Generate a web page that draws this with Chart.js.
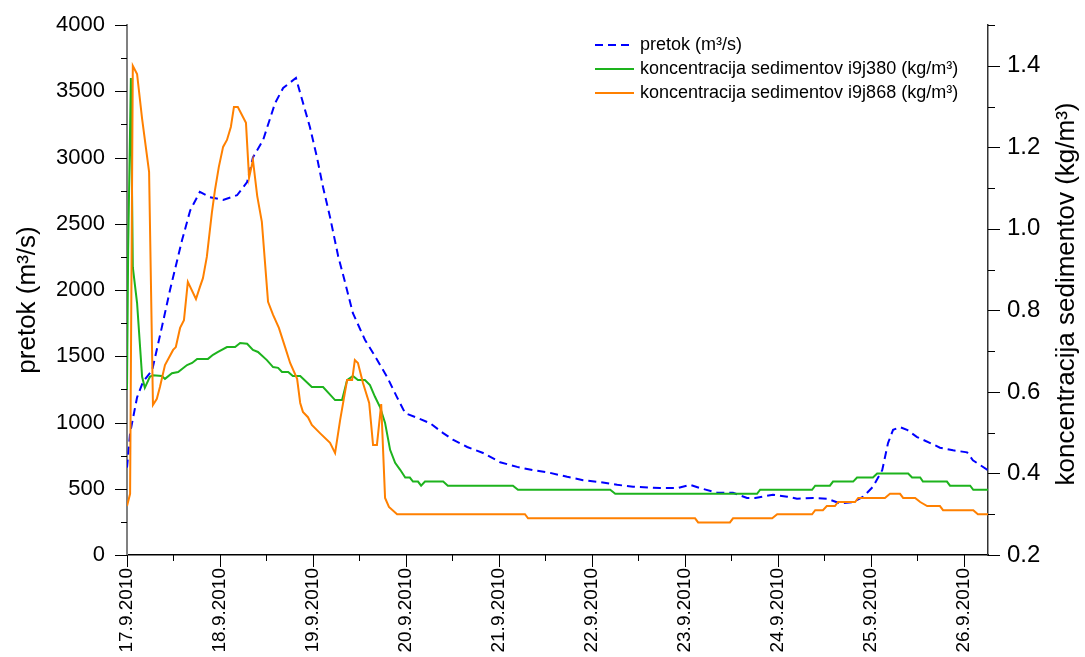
<!DOCTYPE html>
<html>
<head>
<meta charset="utf-8">
<script src="https://cdn.jsdelivr.net/npm/chart.js"></script>
<style>
  html, body { margin: 0; padding: 0; background: #fff; }
  canvas { display: block; }
</style>
</head>
<body>
<canvas id="c" width="1085" height="657"></canvas>
<script>
// ---- data (x in hours from 17.9.2010 00:00) ----
const dateLabels = ['17.9.2010','18.9.2010','19.9.2010','20.9.2010','21.9.2010','22.9.2010','23.9.2010','24.9.2010','25.9.2010','26.9.2010'];

const pretokHours = [0,0.8,2.6,4.1,6.5,9.0,11.1,14.2,16.3,18.8,21.4,24.8,28.4,31.0,32.5,35.1,38.2,40.3,43.6,47.2,49.0,50.6,52.4,54.5,56.3,58.3,61.4,63.5,67.1,69.7,71.8,74.9,78.2,81.6,84.1,87.8,91.9,96.3,100.7,104.8,109.2,113.6,117.7,122.1,126.5,130.6,137.6,142.0,145.3,147.9,152.3,156.4,160.0,162.1,166.7,170.4,172.9,177.1,180.7,184.0,187.4,190.0,192.5,194.9,196.4,197.7,199.5,201.3,203.9,207.3,209.8,213.2,216.8,218.3,222.2];
const pretokValues = [660,920,1190,1305,1395,1720,2000,2375,2600,2740,2700,2680,2715,2815,3000,3130,3410,3525,3600,3230,3005,2775,2550,2255,2055,1825,1625,1525,1345,1190,1070,1035,995,920,870,815,770,700,665,640,620,590,565,550,530,515,505,505,530,505,470,470,430,430,455,440,425,430,425,390,400,440,515,640,845,945,965,945,890,845,810,790,775,715,640];

const i9j380Hours = [0,0.3,1.0,1.5,2.6,3.9,4.6,5.9,6.7,9.0,9.8,11.6,13.2,15.5,16.8,18.1,20.9,22.2,23.5,25.8,27.9,29.2,31.0,32.5,33.8,36.1,37.7,39.0,40.0,41.6,42.8,44.7,47.7,50.6,53.7,55.5,56.8,58.3,59.6,61.4,62.7,64.0,65.3,66.6,67.9,69.2,70.5,71.8,73.0,73.8,75.1,75.9,76.9,81.6,82.8,99.6,100.9,124.7,126.0,162.6,163.4,176.8,177.6,181.4,182.2,187.4,188.4,192.5,193.6,201.6,202.6,204.7,205.4,211.6,212.4,217.6,218.4,222.2];
const i9j380Values = [0.605,0.95,1.37,0.906,0.818,0.637,0.610,0.637,0.641,0.639,0.632,0.646,0.649,0.666,0.671,0.681,0.681,0.691,0.698,0.710,0.710,0.720,0.718,0.703,0.698,0.678,0.661,0.659,0.649,0.649,0.639,0.639,0.612,0.612,0.580,0.580,0.629,0.639,0.629,0.629,0.617,0.588,0.563,0.524,0.458,0.426,0.409,0.39,0.39,0.38,0.38,0.37,0.38,0.38,0.37,0.37,0.36,0.36,0.35,0.35,0.36,0.36,0.37,0.37,0.38,0.38,0.39,0.39,0.40,0.40,0.39,0.39,0.38,0.38,0.37,0.37,0.36,0.36];

const i9j868Hours = [0,0.8,1.5,2.6,3.9,5.7,6.7,7.7,8.5,9.8,11.9,12.6,13.7,14.7,15.7,17.8,18.8,19.6,20.6,21.9,22.7,23.7,24.8,25.8,26.8,27.6,28.6,30.7,31.5,32.5,33.6,34.8,36.4,37.7,39.2,40.8,42.1,43.9,44.7,45.4,46.7,47.7,49.8,52.4,53.7,55.0,56.8,58.1,58.8,59.6,60.9,62.5,63.5,64.5,65.6,66.6,67.6,69.7,102.7,103.5,146.6,147.4,155.6,156.4,166.5,167.8,176.8,177.6,179.6,180.6,182.7,183.5,187.9,188.7,195.6,196.9,199.5,200.3,203.4,204.7,206.5,209.8,210.6,218.4,219.6,222.2];
const i9j868Values = [0.32,0.35,1.40,1.38,1.27,1.14,0.568,0.583,0.612,0.666,0.703,0.710,0.757,0.776,0.870,0.828,0.857,0.879,0.931,1.039,1.095,1.152,1.201,1.218,1.250,1.299,1.299,1.260,1.125,1.169,1.081,1.017,0.821,0.789,0.757,0.710,0.671,0.632,0.573,0.551,0.538,0.519,0.499,0.475,0.450,0.531,0.629,0.629,0.678,0.671,0.622,0.573,0.470,0.470,0.570,0.340,0.318,0.30,0.30,0.29,0.29,0.28,0.28,0.29,0.29,0.30,0.30,0.31,0.31,0.32,0.32,0.33,0.33,0.34,0.34,0.35,0.35,0.34,0.34,0.33,0.32,0.32,0.31,0.31,0.30,0.30];

const toPoints = (xs, ys) => xs.map((h, i) => ({ x: h, y: ys[i] }));

const FONT = "'Liberation Sans', Arial, sans-serif";

const decor = {
  id: 'decor',
  afterDraw(chart) {
    const ctx = chart.ctx;
    const ca = chart.chartArea;
    const sx = chart.scales.x, sy = chart.scales.y, sy1 = chart.scales.y1;
    ctx.save();
    ctx.strokeStyle = '#000';
    ctx.lineWidth = 1;
    const seg = (x1, y1, x2, y2) => { ctx.beginPath(); ctx.moveTo(x1, y1); ctx.lineTo(x2, y2); ctx.stroke(); };
    // ticks
    sy.ticks.forEach(t => {
      const py = Math.round(sy.getPixelForValue(t.value)) + 0.5;
      const len = (Math.round(t.value) % 500 === 0) ? 12 : 6;
      seg(ca.left - len, py, ca.left, py);
    });
    sy1.ticks.forEach(t => {
      const py = Math.round(sy1.getPixelForValue(t.value)) + 0.5;
      const len = (Math.round(t.value * 10) % 2 === 0) ? 12 : 7;
      seg(ca.right, py, ca.right + len, py);
    });
    sx.ticks.forEach(t => {
      const px = Math.round(sx.getPixelForValue(t.value)) + 0.5;
      const len = (Math.round(t.value) % 24 === 0) ? 12 : 6;
      seg(px, ca.bottom, px, ca.bottom + len);
    });
    // axis titles
    ctx.fillStyle = '#000';
    ctx.textAlign = 'center';
    ctx.textBaseline = 'middle';
    ctx.font = '26px ' + FONT;
    ctx.save();
    ctx.translate(28, 300);
    ctx.rotate(-Math.PI / 2);
    ctx.fillText('pretok (m³/s)', 0, 0);
    ctx.restore();
    ctx.save();
    ctx.translate(1067, 294);
    ctx.rotate(-Math.PI / 2);
    ctx.fillText('koncentracija sedimentov (kg/m³)', 0, 0);
    ctx.restore();
    // legend
    ctx.font = '18px ' + FONT;
    ctx.textAlign = 'left';
    const rows = [45, 69, 93];
    chart.data.datasets.forEach((ds, i) => {
      const ly = rows[i];
      ctx.save();
      ctx.strokeStyle = ds.borderColor;
      ctx.lineWidth = 2;
      ctx.setLineDash(ds.borderDash || []);
      seg(595, ly, 634, ly);
      ctx.restore();
      ctx.fillText(ds.label, 640, ly);
    });
    ctx.restore();
  }
};

new Chart(document.getElementById('c'), {
  type: 'line',
  data: {
    datasets: [
      { label: 'pretok (m³/s)', data: toPoints(pretokHours, pretokValues), yAxisID: 'y',
        borderColor: '#0000ff', borderWidth: 2, borderDash: [8, 5], pointRadius: 0, order: 3 },
      { label: 'koncentracija sedimentov i9j380 (kg/m³)', data: toPoints(i9j380Hours, i9j380Values), yAxisID: 'y1',
        borderColor: '#1db31d', borderWidth: 2, pointRadius: 0, order: 2 },
      { label: 'koncentracija sedimentov i9j868 (kg/m³)', data: toPoints(i9j868Hours, i9j868Values), yAxisID: 'y1',
        borderColor: '#ff8000', borderWidth: 2, pointRadius: 0, order: 1 }
    ]
  },
  options: {
    responsive: false,
    devicePixelRatio: 1,
    animation: false,
    layout: { padding: { top: 25, left: 0, right: 0, bottom: 0 } },
    elements: { line: { tension: 0 } },
    plugins: { legend: { display: false }, tooltip: { enabled: false } },
    scales: {
      x: {
        type: 'linear', min: 0, max: 222.2,
        afterFit: s => { s.height = 102; },
        afterBuildTicks: s => {
          const t = [];
          for (let v = 0; v <= 222; v += 12) t.push({ value: v });
          s.ticks = t;
        },
        ticks: {
          autoSkip: false, minRotation: 90, maxRotation: 90, padding: 1,
          color: '#000', font: { family: FONT, size: 19 },
          callback: v => (v % 24 === 0 ? dateLabels[v / 24] : '')
        },
        grid: { drawOnChartArea: false, drawTicks: true, tickLength: 12, tickColor: 'rgba(0,0,0,0)' },
        border: { display: true, color: '#000', width: 1.5 }
      },
      y: {
        position: 'left', min: 0, max: 4000,
        afterFit: s => { s.width = 127; },
        ticks: {
          stepSize: 250, padding: 10, color: '#000', font: { family: FONT, size: 22 },
          callback: v => (v % 500 === 0 ? String(v) : '')
        },
        grid: { drawOnChartArea: false, drawTicks: true, tickLength: 12, tickColor: 'rgba(0,0,0,0)' },
        border: { display: true, color: '#808080', width: 2 }
      },
      y1: {
        position: 'right', min: 0.2, max: 1.5,
        afterFit: s => { s.width = 97; },
        ticks: {
          stepSize: 0.1, padding: 7, color: '#000', font: { family: FONT, size: 24 },
          callback: v => (Math.round(v * 10) % 2 === 0 ? v.toFixed(1) : '')
        },
        grid: { drawOnChartArea: false, drawTicks: true, tickLength: 12, tickColor: 'rgba(0,0,0,0)' },
        border: { display: true, color: '#333', width: 1.5 }
      }
    }
  },
  plugins: [decor]
});
</script>
</body>
</html>
